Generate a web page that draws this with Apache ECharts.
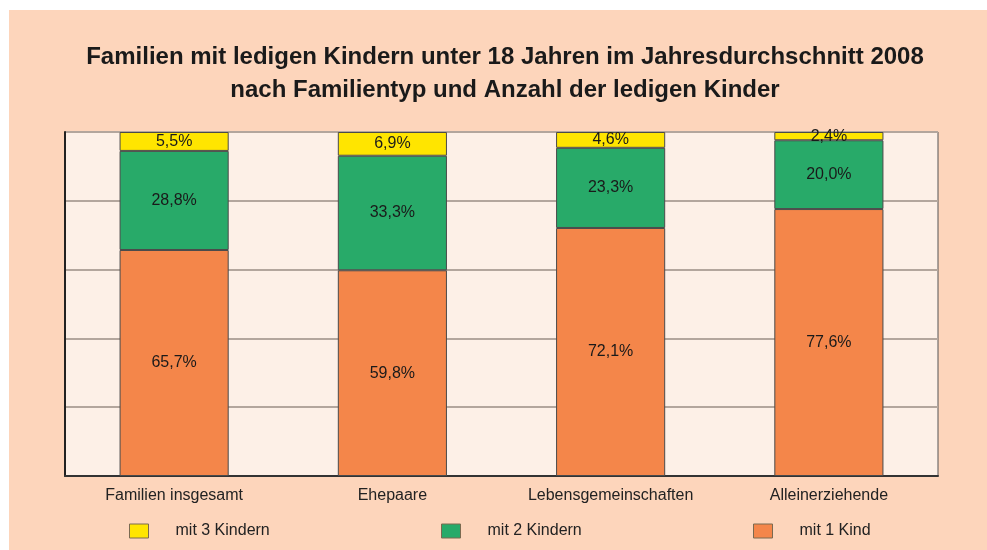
<!DOCTYPE html>
<html><head><meta charset="utf-8">
<script src="https://cdn.jsdelivr.net/npm/echarts@6/dist/echarts.min.js"></script>
<style>html,body{margin:0;padding:0;background:#fff}#c{width:987px;height:550px}</style>
</head><body><div id="c"></div>
<script>
const categories = ['Familien insgesamt', 'Ehepaare', 'Lebensgemeinschaften', 'Alleinerziehende'];
const mit1Kind = [65.7, 59.8, 72.1, 77.6];
const mit2Kindern = [28.8, 33.3, 23.3, 20.0];
const mit3Kindern = [5.5, 6.9, 4.6, 2.4];
const seriesNames = ['mit 3 Kindern', 'mit 2 Kindern', 'mit 1 Kind'];
const colors = { 'mit 3 Kindern': '#FFE500', 'mit 2 Kindern': '#28AA69', 'mit 1 Kind': '#F4864A' };

const fmt = p => p.value.toFixed(1).replace('.', ',') + '%';
const font = 'Liberation Sans, Arial, sans-serif';
function bar(name, data) {
  return {
    name, type: 'bar', stack: 'a', data, barWidth: '50%',
    itemStyle: { color: colors[name], borderColor: '#4a4a4a', borderWidth: 1 },
    label: { show: true, position: 'inside', formatter: fmt, color: '#1a1a1a', fontSize: 16, fontFamily: font },
    emphasis: { disabled: true }
  };
}
const chart = echarts.init(document.getElementById('c'));
const legendBase = (name, left) => ({
  data: [name], left, top: 523, padding: 0, itemWidth: 19, itemHeight: 14,
  icon: 'rect',
  itemStyle: { borderColor: '#7a6a50', borderWidth: 1 },
  textStyle: { fontSize: 16, color: '#222', fontFamily: font, padding: [0, 0, 0, 22] },
  selectedMode: false
});
chart.setOption({
  animation: false,
  backgroundColor: '#fff',
  graphic: [{ type: 'rect', z: -10, shape: { x: 9, y: 10, width: 978, height: 540 }, style: { fill: '#FDD5BB' } }],
  title: {
    text: 'Familien mit ledigen Kindern unter 18 Jahren im Jahresdurchschnitt 2008\nnach Familientyp und Anzahl der ledigen Kinder',
    left: 500, top: 36, textAlign: 'center',
    textStyle: { fontSize: 24, fontWeight: 'bold', color: '#1a1a1a', fontFamily: font, lineHeight: 33 }
  },
  legend: [legendBase('mit 3 Kindern', 129), legendBase('mit 2 Kindern', 441), legendBase('mit 1 Kind', 753)],
  grid: { left: 65, top: 132, width: 873, height: 344, show: true, backgroundColor: '#FDF0E7', borderColor: '#555', borderWidth: 1 },
  xAxis: {
    type: 'category', data: categories,
    axisLine: { show: true, lineStyle: { color: '#333', width: 2 } },
    axisTick: { show: false },
    axisLabel: { fontSize: 16, color: '#222', fontFamily: font, margin: 12 }
  },
  yAxis: {
    type: 'value', min: 0, max: 100, interval: 20,
    axisLabel: { show: false },
    axisLine: { show: true, lineStyle: { color: '#222', width: 2 } },
    axisTick: { show: false },
    splitLine: { lineStyle: { color: '#B3A69D', width: 2 } }
  },
  series: [bar('mit 1 Kind', mit1Kind), bar('mit 2 Kindern', mit2Kindern), bar('mit 3 Kindern', mit3Kindern)]
});
</script></body></html>
